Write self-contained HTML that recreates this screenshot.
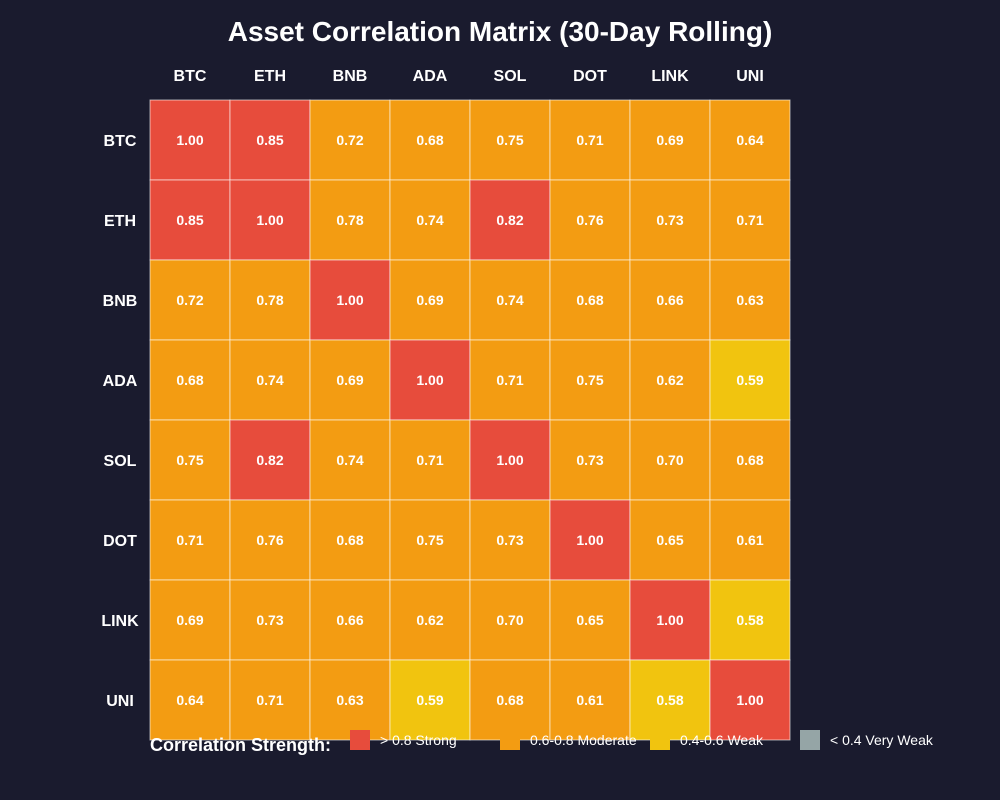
<!DOCTYPE html>
<html><head><meta charset="utf-8"><style>
body{margin:0;background:#1a1b2e;}
svg{display:block;font-family:"Liberation Sans",sans-serif;}
</style></head><body>
<svg id="c" width="1000" height="800">
<rect width="1000" height="800" fill="#1a1b2e"/>
<text x="500" y="41" text-anchor="middle" fill="#fff" font-size="28" font-weight="bold">Asset Correlation Matrix (30-Day Rolling)</text>
<g id="grid"></g>
<g id="legend"></g>
</svg>
<script>
const assets = ["BTC","ETH","BNB","ADA","SOL","DOT","LINK","UNI"];
const row0 = [1.00,0.85,0.72,0.68,0.75,0.71,0.69,0.64];
const row1 = [0.85,1.00,0.78,0.74,0.82,0.76,0.73,0.71];
const row2 = [0.72,0.78,1.00,0.69,0.74,0.68,0.66,0.63];
const row3 = [0.68,0.74,0.69,1.00,0.71,0.75,0.62,0.59];
const row4 = [0.75,0.82,0.74,0.71,1.00,0.73,0.70,0.68];
const row5 = [0.71,0.76,0.68,0.75,0.73,1.00,0.65,0.61];
const row6 = [0.69,0.73,0.66,0.62,0.70,0.65,1.00,0.58];
const row7 = [0.64,0.71,0.63,0.59,0.68,0.61,0.58,1.00];
const matrix = [row0,row1,row2,row3,row4,row5,row6,row7];
const legendLabels = ["> 0.8 Strong","0.6-0.8 Moderate","0.4-0.6 Weak","< 0.4 Very Weak"];

const NS="http://www.w3.org/2000/svg";
const x0=150,y0=100,cs=80;
const xPos=i=>x0+i*cs, yPos=i=>y0+i*cs;
function color(v){return v>=0.8?"#e74c3c":v>=0.6?"#f39c12":v>=0.4?"#f1c40f":"#95a5a6";}
function mk(tag,attrs,parent){const e=document.createElementNS(NS,tag);for(const k in attrs)e.setAttribute(k,attrs[k]);parent.appendChild(e);return e;}
const g=document.getElementById("grid");
assets.forEach((a,i)=>{
  const t=mk("text",{x:xPos(i)+cs/2,y:81,"text-anchor":"middle",fill:"#fff","font-size":16,"font-weight":"bold"},g);
  t.textContent=a;
  
  
  const r=mk("text",{x:120,y:yPos(i)+cs/2+6,"text-anchor":"middle",fill:"#fff","font-size":16,"font-weight":"bold"},g);
  r.textContent=a;
  
  
});
matrix.forEach((row,i)=>row.forEach((v,j)=>{
  const c=mk("rect",{x:xPos(j),y:yPos(i),width:cs,height:cs,fill:color(v),stroke:"rgba(255,255,255,0.6)","stroke-width":1},g);
  
  
  const t=mk("text",{x:xPos(j)+cs/2,y:yPos(i)+cs/2+5,"text-anchor":"middle",fill:"#fff","font-size":14,"font-weight":"bold"},g);
  t.textContent=v.toFixed(2);
  
  
}));
const lg=document.getElementById("legend");
const lt=mk("text",{x:150,y:751,fill:"#fff","font-size":18,"font-weight":"bold"},lg);
lt.textContent="Correlation Strength:";


const lc=["#e74c3c","#f39c12","#f1c40f","#95a5a6"];
legendLabels.forEach((s,i)=>{
  const x=350+i*150;
  const r=mk("rect",{x:x,y:730,width:20,height:20,fill:lc[i]},lg);
  
  
  const t=mk("text",{x:x+30,y:745,fill:"#fff","font-size":14},lg);
  t.textContent=s;
  
  
});
</script>
</body></html>
